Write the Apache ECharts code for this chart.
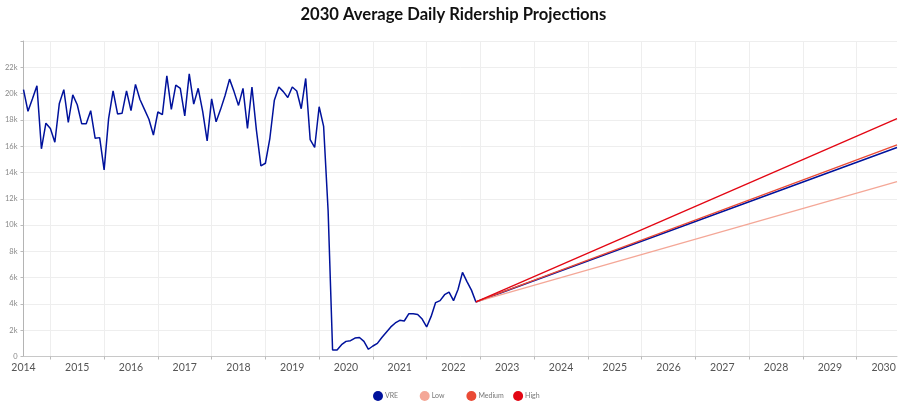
<!DOCTYPE html>
<html><head><meta charset="utf-8">
<style>html,body{margin:0;padding:0;background:#fff}#c{width:900px;height:407px}</style>
<script src="https://cdn.jsdelivr.net/npm/echarts@6/dist/echarts.min.js"></script>
</head><body><div id="c"></div>
<script>
const startYear = 2014;
const monthCount = 196;
const categories = [];
for (let i = 0; i < monthCount; i++) {
  const y = startYear + Math.floor(i / 12), m = i % 12 + 1;
  categories.push(y + '-' + String(m).padStart(2, '0'));
}
const vreHistory = [
  20300,18650,19600,20600,15800,17750,17350,16300,19250,20300,17800,19900,
  19150,17700,17700,18700,16600,16650,14200,18100,20200,18450,18500,20200,
  18700,20700,19550,18800,18050,16850,18600,18400,21350,18800,20650,20400,
  18300,21500,19200,20400,18650,16400,19600,17850,18800,19850,21100,20150,
  19100,20400,17350,20500,17200,14500,14700,16600,19500,20500,20150,19700,
  20500,20200,18850,21150,16500,15900,19000,17500,11100,500,500,900,
  1150,1200,1400,1450,1150,550,800,1000,1450,1850,2250,2550,
  2750,2700,3250,3250,3200,2850,2250,3050,4100,4250,4700,4900,
  4250,5100,6400,5700,5050,4150
];
const projectionStart = '2022-06';
const projectionEnd = '2030-04';
const vreEnd = 15900, lowEnd = 13300, mediumEnd = 16100, highEnd = 18100;
const startValue = 4150;
const yTicks = { max: 24000, interval: 2000 };
const seriesNames = ['VRE', 'Low', 'Medium', 'High'];

const vreData = vreHistory.map((v, i) => [categories[i], v]).concat([[projectionEnd, vreEnd]]);
const line = (name, color, data, z, width) => ({
  name, type: 'line', data, symbol: 'none', smooth: false, connectNulls: true, z,
  lineStyle: { color, width }, itemStyle: { color }
});
const legendLeft = [373, 419.7, 466.4, 513.1];
const chart = echarts.init(document.getElementById('c'), null, { renderer: 'canvas' });
chart.setOption({
  animation: false,
  backgroundColor: '#fff',
  title: {
    text: '2030 Average Daily Ridership Projections', left: 295.5, top: 1,
    textStyle: { fontFamily: 'Lato', fontSize: 16.6, fontWeight: 'bold', color: '#111' }
  },
  grid: { left: 23.5, right: 3, top: 41, bottom: 50.5, containLabel: false },
  legend: seriesNames.map((name, i) => ({
    data: [name], top: 391, left: legendLeft[i], padding: 0, icon: 'circle', itemWidth: 10, itemHeight: 10,
    textStyle: { fontFamily: 'Lato', fontSize: 7, color: '#777', padding: [0, 0, 0, -3] }
  })),
  xAxis: {
    type: 'category', data: categories, boundaryGap: false,
    axisLine: { lineStyle: { color: '#c8c8c8' } },
    axisTick: { length: 3, lineStyle: { color: '#bbb' }, interval: (i) => i % 12 === 6 },
    axisLabel: {
      interval: (i) => i % 12 === 0, formatter: (v) => v.slice(0, 4),
      fontFamily: 'Lato', fontSize: 10.5, color: '#555', margin: 6, hideOverlap: false
    },
    splitLine: { show: true, interval: (i) => i % 12 === 6, lineStyle: { color: '#eeeeee', width: 1 } }
  },
  yAxis: {
    type: 'value', min: 0, max: yTicks.max, interval: yTicks.interval,
    axisLine: { show: true, lineStyle: { color: '#b4b4b4' } },
    axisTick: { show: true, length: 3, lineStyle: { color: '#bbb' } },
    axisLabel: {
      formatter: (v) => v === 0 ? '0' : (v < yTicks.max ? (v / 1000) + 'k' : ''),
      fontFamily: 'Lato', fontSize: 7.5, color: '#888', margin: 6
    },
    splitLine: { show: true, lineStyle: { color: '#eeeeee', width: 1 } }
  },
  series: [
    line('VRE', '#00129c', vreData, 2, 1.5),
    line('Low', '#f4a797', [[projectionStart, startValue], [projectionEnd, lowEnd]], 3, 1.3),
    line('Medium', '#ea4a35', [[projectionStart, startValue], [projectionEnd, mediumEnd]], 3, 1.3),
    line('High', '#e30613', [[projectionStart, startValue], [projectionEnd, highEnd]], 4, 1.3)
  ]
});
</script></body></html>
